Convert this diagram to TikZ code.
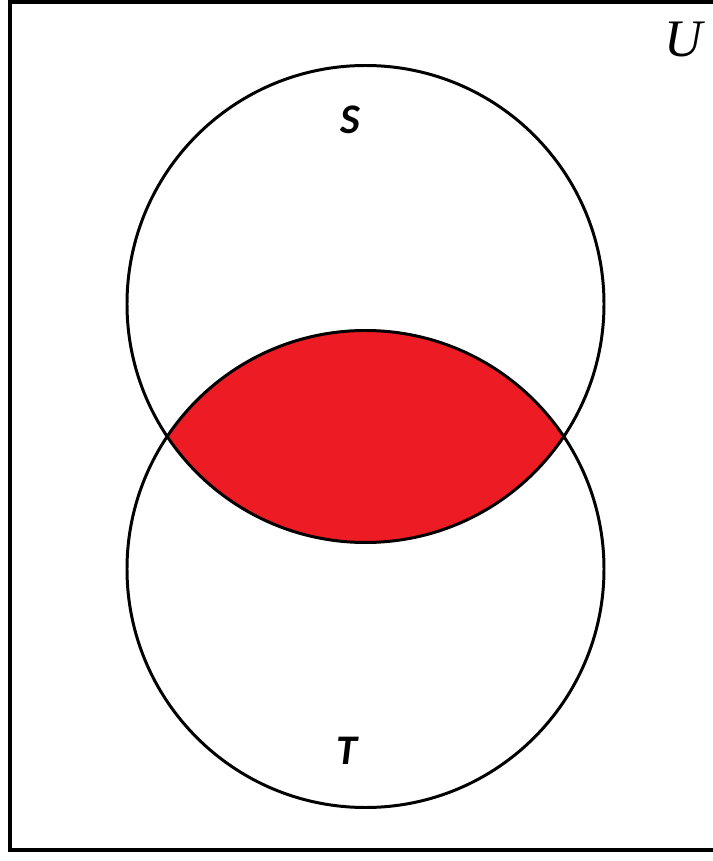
\documentclass[tikz,border=0pt]{standalone}
\usepackage{fontspec}
\setmainfont{Carlito}
\newfontfamily\ufont{Liberation Serif}
\usetikzlibrary{positioning}
\definecolor{venred}{HTML}{ED1C24}

\begin{document}
\begin{tikzpicture}[
  every node/.style={inner sep=0pt},
  setline/.style={draw=black,line width=1.7pt},
  lbl/.style={font=\fontsize{24}{26}\selectfont\bfseries\itshape}]
\useasboundingbox (0,0) rectangle (14.26,17.22);
% universe frame
\draw[line width=2.3pt] (14.3,17.19) -- (0.2,17.19) -- (0.2,0.22) -- (14.3,0.22);
% intersection
\begin{scope}
  \clip (7.31,11.14) circle (4.77);
  \fill[venred] (7.31,5.84) circle (4.77);
\end{scope}
\draw[setline] (7.31,11.14) circle (4.77);
\draw[setline] (7.31,5.84) circle (4.77);
\node[lbl] (s) at (7.0,14.82) {S};
\node[lbl] (t) at (6.94,2.2) {T};
\node[font=\ufont\fontsize{30}{32}\selectfont\itshape] (u) at (13.68,16.42) {U};
\end{tikzpicture}
\end{document}
